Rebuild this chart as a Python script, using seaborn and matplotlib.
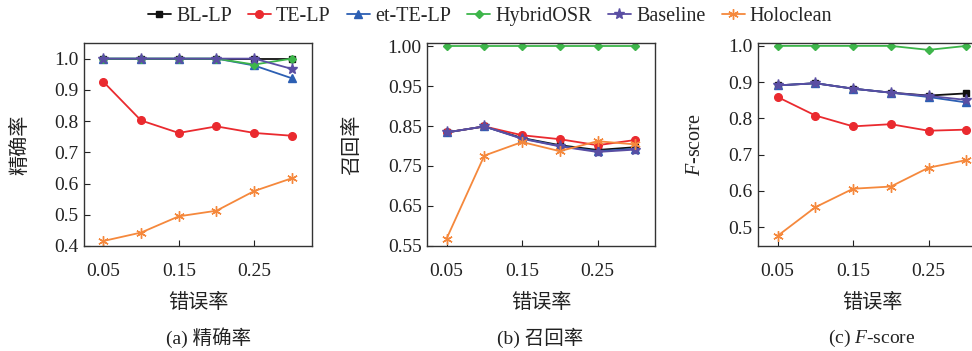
import numpy as np
import pandas as pd
import matplotlib
matplotlib.use("Agg")
import matplotlib.pyplot as plt
import seaborn as sns

# ---------------- data ----------------
error_rates = [0.05, 0.10, 0.15, 0.20, 0.25, 0.30]
methods = ["BL-LP", "TE-LP", "et-TE-LP", "HybridOSR", "Baseline", "Holoclean"]

precision_bl_lp = [1.0, 1.0, 1.0, 1.0, 1.0, 1.0]
precision_te_lp = [0.926, 0.802, 0.762, 0.783, 0.762, 0.753]
precision_et_te_lp = [1.0, 1.0, 1.0, 1.0, 0.978, 0.937]
precision_hybridosr = [1.0, 1.0, 1.0, 1.0, 0.981, 1.0]
precision_baseline = [1.0, 1.0, 1.0, 1.0, 1.0, 0.967]
precision_holoclean = [0.416, 0.443, 0.495, 0.513, 0.576, 0.617]

recall_bl_lp = [0.834, 0.849, 0.820, 0.802, 0.790, 0.797]
recall_te_lp = [0.834, 0.849, 0.827, 0.817, 0.802, 0.815]
recall_et_te_lp = [0.834, 0.849, 0.819, 0.800, 0.787, 0.793]
recall_hybridosr = [1.0, 1.0, 1.0, 1.0, 1.0, 1.0]
recall_baseline = [0.834, 0.849, 0.818, 0.799, 0.785, 0.791]
recall_holoclean = [0.568, 0.776, 0.810, 0.787, 0.812, 0.804]

fscore_bl_lp = [0.891, 0.897, 0.882, 0.871, 0.863, 0.869]
fscore_te_lp = [0.859, 0.808, 0.778, 0.784, 0.766, 0.769]
fscore_et_te_lp = [0.891, 0.897, 0.882, 0.871, 0.859, 0.844]
fscore_hybridosr = [1.0, 1.0, 1.0, 1.0, 0.989, 1.0]
fscore_baseline = [0.891, 0.897, 0.882, 0.871, 0.862, 0.851]
fscore_holoclean = [0.476, 0.555, 0.606, 0.612, 0.664, 0.685]

x_ticks = [0.05, 0.15, 0.25]
precision_ticks = [0.4, 0.5, 0.6, 0.7, 0.8, 0.9, 1.0]
recall_ticks = [0.55, 0.65, 0.75, 0.85, 0.95, 1.00]
fscore_ticks = [0.5, 0.6, 0.7, 0.8, 0.9, 1.0]

panel_titles = ["(a) 精确率", "(b) 召回率", "(c) $F$-score"]
y_labels = ["精确率", "召回率", "$F$-score"]
x_label = "错误率"

# ---------------- style ----------------
sns.set_theme(style="ticks")
FAM = ["Liberation Serif", "Noto Sans CJK SC", "DejaVu Sans"]
plt.rcParams["font.family"] = FAM
plt.rcParams["mathtext.fontset"] = "custom"
plt.rcParams["mathtext.rm"] = "Liberation Serif"
plt.rcParams["mathtext.it"] = "Liberation Serif:italic"
plt.rcParams["axes.unicode_minus"] = False

colors = {
    "BL-LP": "#111111",
    "TE-LP": "#ea2a2f",
    "et-TE-LP": "#2c5fb3",
    "HybridOSR": "#3db54a",
    "Baseline": "#5a4ea3",
    "Holoclean": "#f5883c",
}
markers = {
    "BL-LP": "s",
    "TE-LP": "o",
    "et-TE-LP": "^",
    "HybridOSR": "D",
    "Baseline": "*",
    "Holoclean": (6, 2, 0),
}
msizes = {"BL-LP": 5, "TE-LP": 5.5, "et-TE-LP": 6, "HybridOSR": 4.2,
          "Baseline": 8, "Holoclean": 7.5}

def make_df(vals):
    rows = []
    for m, v in zip(methods, vals):
        for x, y in zip(error_rates, v):
            rows.append({"rate": x, "value": y, "method": m})
    return pd.DataFrame(rows)

df_p = make_df([precision_bl_lp, precision_te_lp, precision_et_te_lp,
                precision_hybridosr, precision_baseline, precision_holoclean])
df_r = make_df([recall_bl_lp, recall_te_lp, recall_et_te_lp,
                recall_hybridosr, recall_baseline, recall_holoclean])
df_f = make_df([fscore_bl_lp, fscore_te_lp, fscore_et_te_lp,
                fscore_hybridosr, fscore_baseline, fscore_holoclean])

W, H = 972, 351
fig = plt.figure(figsize=(W / 100, H / 100), dpi=100)
ax_w, ax_h = 228 / W, 203 / H
bottom = (H - 246) / H
lefts = [84 / W, 427.3 / W, 758.3 / W]
axes = [fig.add_axes([l, bottom, ax_w, ax_h]) for l in lefts]

# recall axis: the interval 0.95-1.00 occupies as much room as a 0.1 step
def fwd(y):
    y = np.asarray(y, dtype=float)
    return np.where(y <= 0.95, y, 0.95 + 2.0 * (y - 0.95))

def inv(y):
    y = np.asarray(y, dtype=float)
    return np.where(y <= 0.95, y, 0.95 + (y - 0.95) / 2.0)

axes[1].set_yscale("function", functions=(fwd, inv))

datasets = [df_p, df_r, df_f]
for ax, df in zip(axes, datasets):
    for m in methods:
        sub = df[df["method"] == m]
        sns.lineplot(data=sub, x="rate", y="value", ax=ax, color=colors[m],
                     marker=markers[m], markersize=msizes[m],
                     markeredgecolor=colors[m], markeredgewidth=1.0,
                     linewidth=1.3, label=m, legend=False)

ylims = [(0.4, 1.05), (0.5495, 1.004), (0.448, 1.008)]
yticks = [precision_ticks, recall_ticks, fscore_ticks]
yfmt = ["{:.1f}", "{:.2f}", "{:.1f}"]
for i, ax in enumerate(axes):
    ax.set_xlim(0.0244, 0.3266)
    ax.set_ylim(*ylims[i])
    ax.set_xticks(x_ticks)
    ax.set_xticklabels([f"{t:.2f}" for t in x_ticks])
    ax.set_yticks(yticks[i])
    ax.set_yticklabels([yfmt[i].format(t) for t in yticks[i]])
    ax.minorticks_off()
    ax.tick_params(axis="both", direction="in", length=4, width=0.8,
                   labelsize=14, colors="#222222", pad=4)
    ax.tick_params(axis="x", pad=12)
    for s in ax.spines.values():
        s.set_visible(True)
        s.set_linewidth(1.0)
        s.set_color("#333333")
    ax.set_xlabel(x_label, fontsize=14.5, color="#222222")
    ax.set_ylabel(y_labels[i], fontsize=14.5, color="#222222")
    ax.xaxis.set_label_coords(0.5, -0.235)

axes[0].yaxis.set_label_coords(-0.235, 0.5)
axes[1].yaxis.set_label_coords(-0.285, 0.5)
axes[2].yaxis.set_label_coords(-0.235, 0.5)

caption_x = [209 / W, 540 / W, 872 / W]
for cx, t in zip(caption_x, panel_titles):
    fig.text(cx, 13 / H, t, ha="center", va="center", fontsize=14,
             color="#222222")

handles, labels = axes[0].get_legend_handles_labels()
fig.legend(handles, labels, loc="center", bbox_to_anchor=(490 / W, 1 - 16 / H),
           ncol=6, frameon=False, fontsize=14.5, handlelength=1.15,
           handletextpad=0.25, columnspacing=0.8, borderaxespad=0)

fig.savefig("out.png", dpi=100)
